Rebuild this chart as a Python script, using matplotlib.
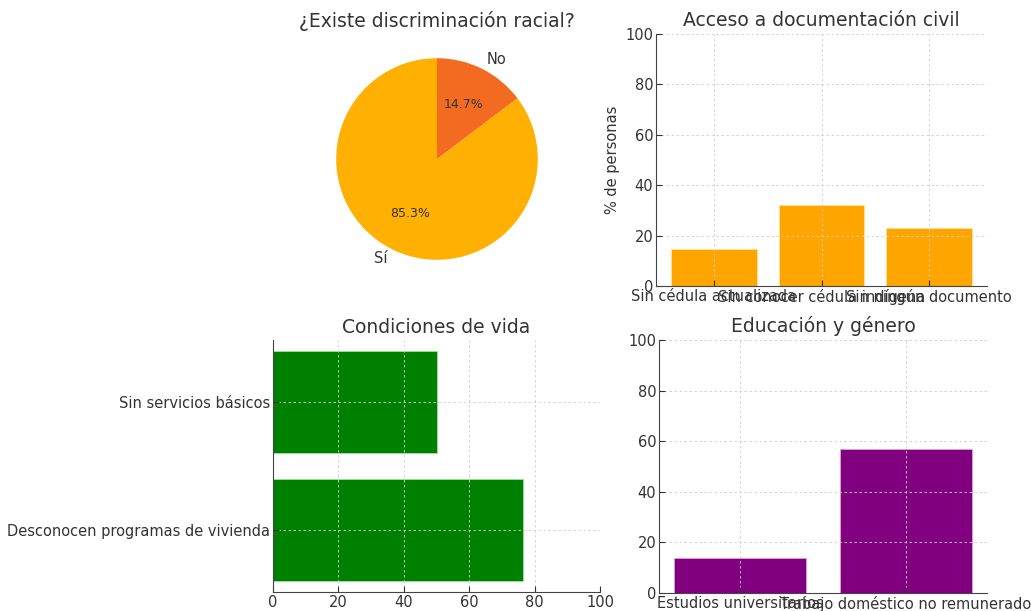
import matplotlib
matplotlib.use("Agg")
import matplotlib.pyplot as plt

pie_labels = ["Sí", "No"]
pie_values = [85.3, 14.7]
pie_colors = ["#FFB000", "#F26B21"]

doc_categories = ["Sin cédula actualizada", "Sin conocer cédula indígena", "Sin ningún documento"]
doc_values = [14.7, 32.0, 23.0]

vida_categories = ["Desconocen programas de vivienda", "Sin servicios básicos"]
vida_values = [76.5, 50.0]

edu_categories = ["Estudios universitarios", "Trabajo doméstico no remunerado"]
edu_values = [14.0, 57.0]

TXT = "#333333"
plt.rcParams.update({
    "font.family": "DejaVu Sans",
    "text.color": TXT,
    "axes.labelcolor": TXT,
    "xtick.color": TXT,
    "ytick.color": TXT,
    "axes.edgecolor": "#444444",
})

W, H = 1031, 611
fig = plt.figure(figsize=(W / 100, H / 100), dpi=100)

def ax_px(l, t, r, b):
    return fig.add_axes([l / W, 1 - b / H, (r - l) / W, (b - t) / H])

def style(ax):
    ax.spines["top"].set_visible(False)
    ax.spines["right"].set_visible(False)
    for sp in ax.spines.values():
        sp.set_zorder(4)
    ax.grid(True, linestyle=(0, (3, 3)), color="#cfcfcf", linewidth=0.6)
    ax.set_axisbelow(False)
    ax.tick_params(direction="in", labelsize=10.5, length=4, pad=2)

# Pie
ax1 = ax_px(311, 33, 563, 285)
ax1.pie(pie_values, labels=pie_labels, colors=pie_colors, startangle=90,
        autopct="%1.1f%%", textprops={"fontsize": 10.5, "color": TXT})
for t in ax1.texts:
    if "%" in t.get_text():
        t.set_fontsize(9)
ax1.set_xlim(-1.25, 1.25)
ax1.set_ylim(-1.25, 1.25)
ax1.set_aspect("equal")
ax1.set_title("¿Existe discriminación racial?", fontsize=13.5, color=TXT, pad=4)

# Documentation
ax2 = ax_px(656, 34, 987, 286)
ax2.bar(doc_categories, doc_values, color="orange", edgecolor="#ffe0a0", linewidth=0.6)
ax2.set_ylim(0, 100)
ax2.set_ylabel("% de personas", fontsize=10.5)
ax2.set_title("Acceso a documentación civil", fontsize=13.5, color=TXT, pad=6)
style(ax2)

# Living conditions
ax3 = ax_px(273, 340, 600, 592)
ax3.barh(vida_categories, vida_values, color="green", edgecolor="#a0e0a0", linewidth=0.6)
ax3.set_xlim(0, 100)
ax3.set_title("Condiciones de vida", fontsize=13.5, color=TXT, pad=5)
style(ax3)

# Education
ax4 = ax_px(659, 340, 987, 593)
ax4.bar(edu_categories, edu_values, color="purple", edgecolor="#e0a0e0", linewidth=0.6)
ax4.set_ylim(0, 100)
ax4.set_title("Educación y género", fontsize=13.5, color=TXT, pad=5.5)
style(ax4)

fig.savefig("out.png", dpi=100)
